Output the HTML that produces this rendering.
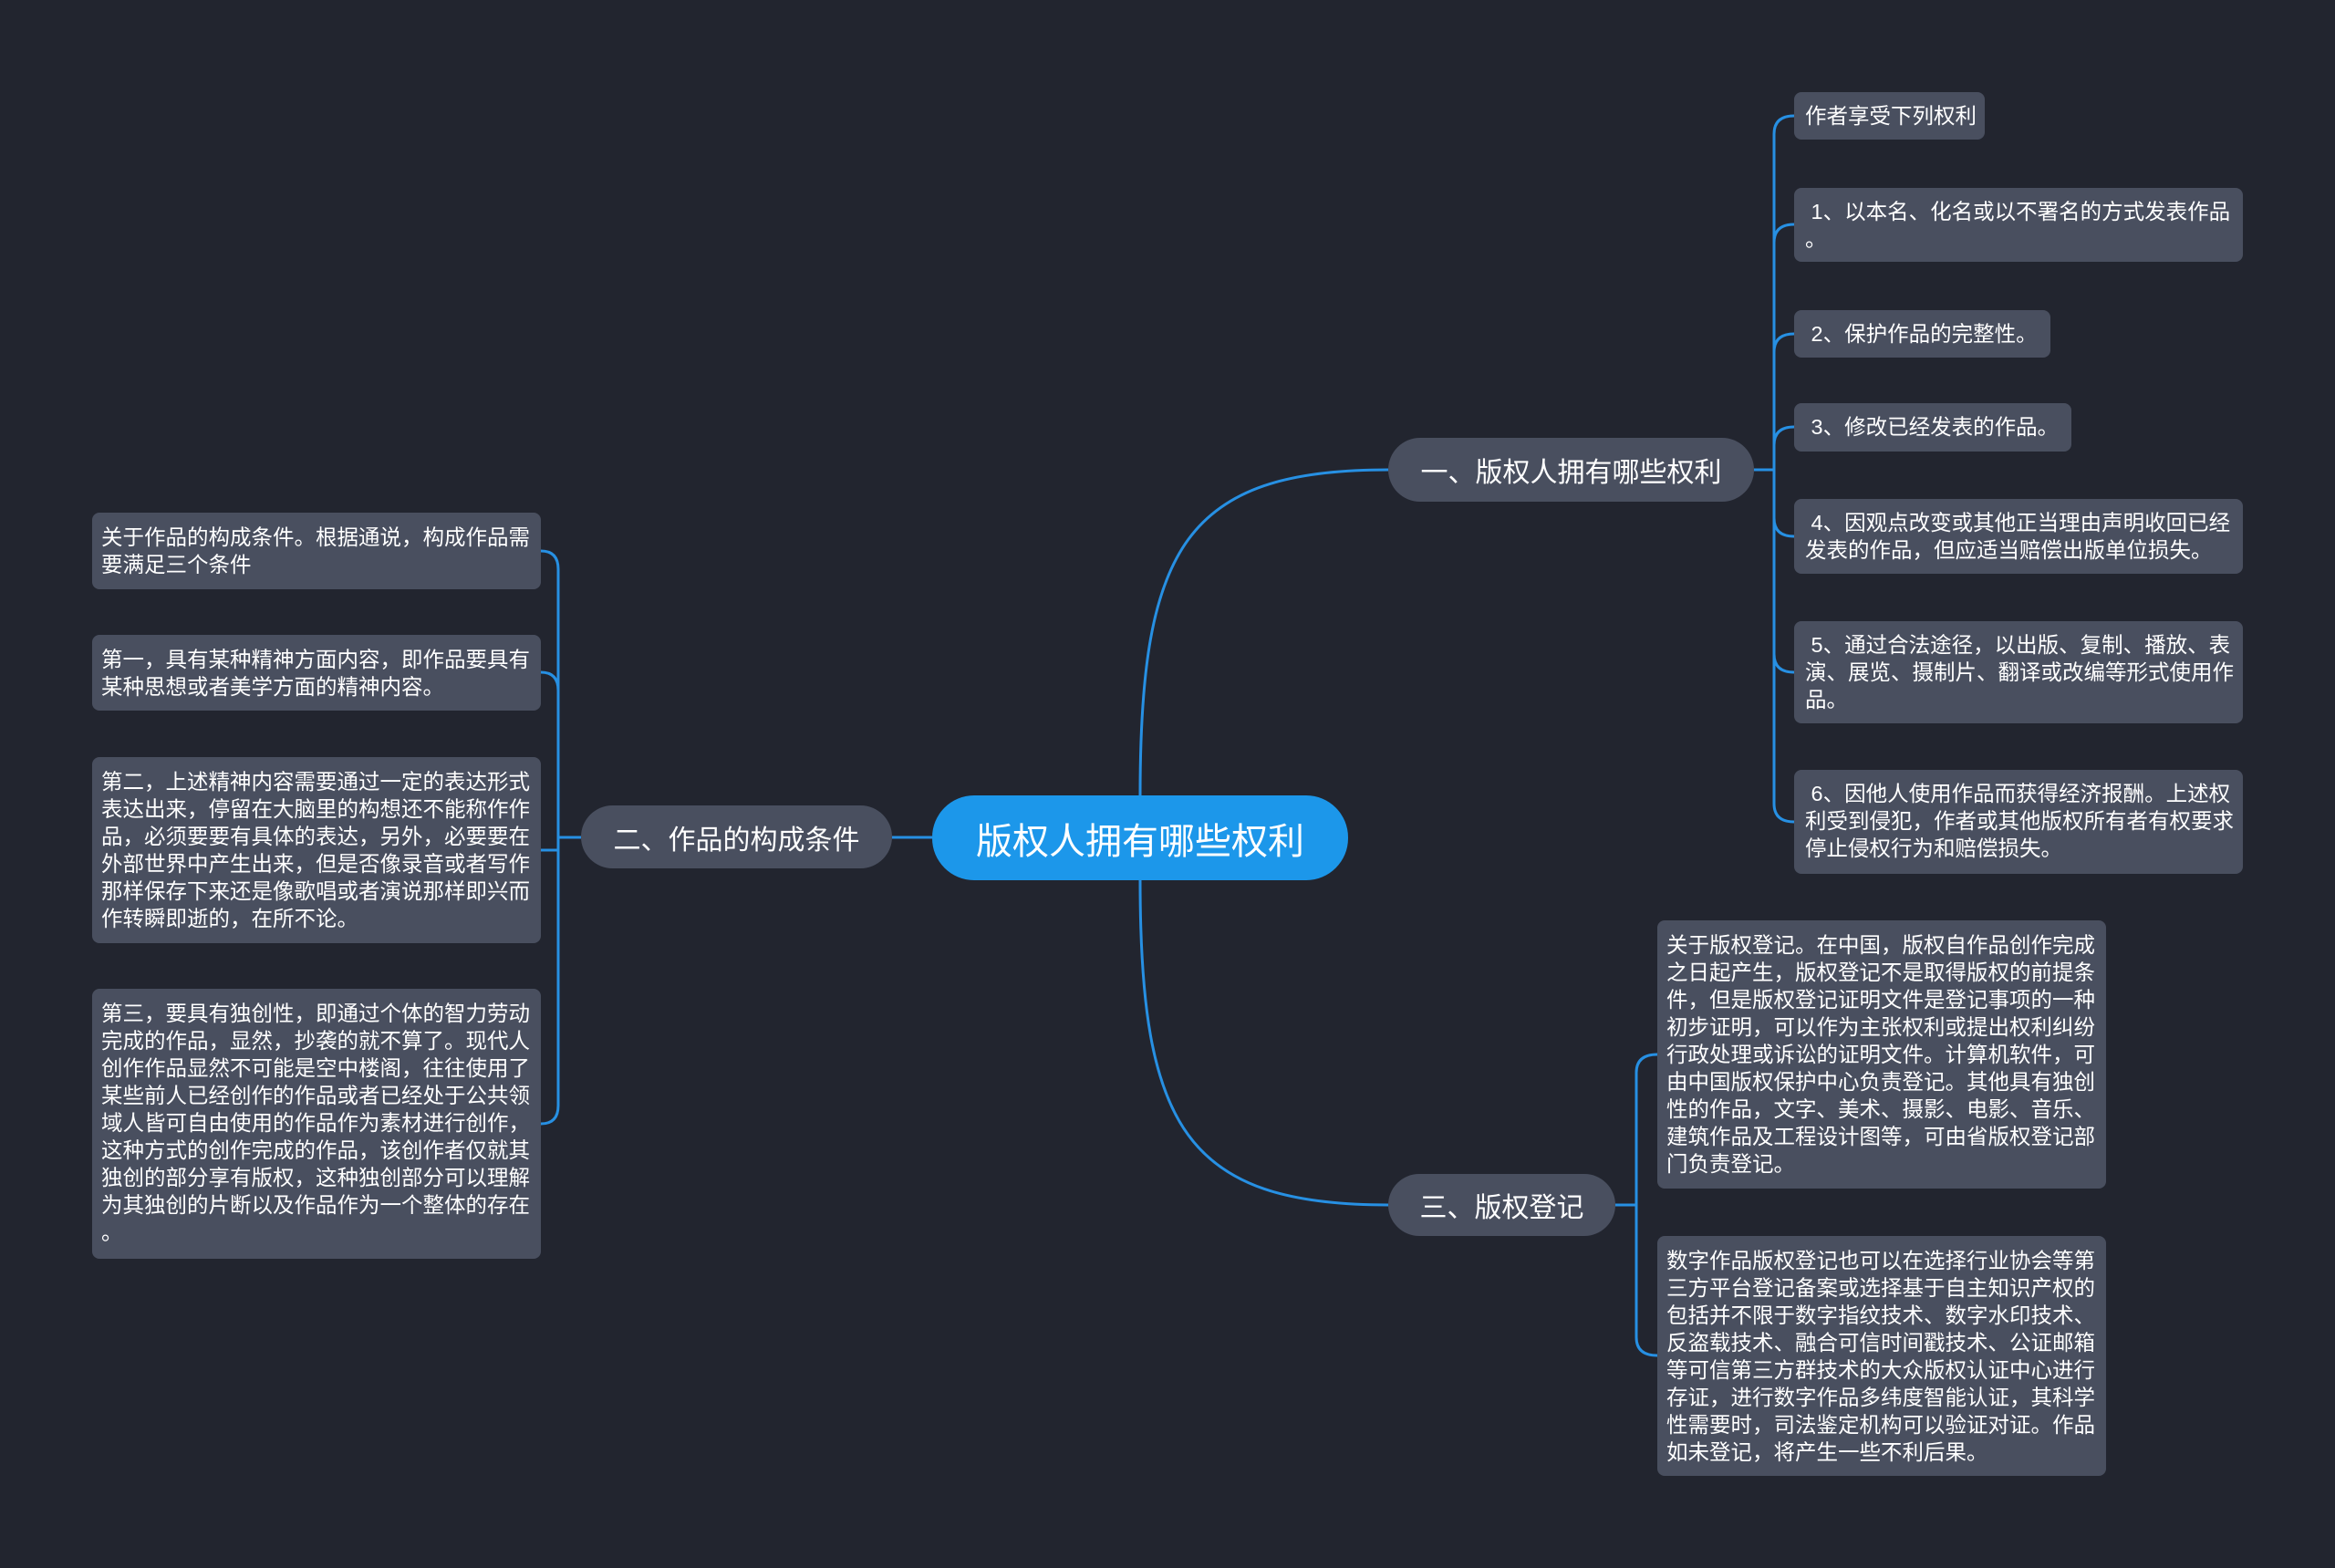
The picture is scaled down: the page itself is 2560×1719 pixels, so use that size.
<!DOCTYPE html>
<html><head><meta charset="utf-8"><style>
html,body{margin:0;padding:0;}
body{width:2560px;height:1719px;background:#22252f;position:relative;overflow:hidden;font-family:"Liberation Sans","Noto Sans CJK SC",sans-serif;color:#fff;}
.b{position:absolute;background:#494f5f;border-radius:8px;font-size:23.5px;line-height:30px;box-sizing:border-box;white-space:nowrap;}
.l{padding:12px 10px;}
.r{padding:11px 12px;}
.p{position:absolute;background:#494f5f;border-radius:36px;font-size:30px;display:flex;align-items:center;justify-content:center;white-space:nowrap;}
svg{position:absolute;left:0;top:0;}
</style></head><body>
<svg width="2560" height="1719" fill="none" stroke="#2790e3" stroke-width="3">
<path d="M1250 872 C1250 600 1300 515 1522 515"/>
<path d="M1250 965 C1250 1235 1300 1321 1522 1321"/>
<path d="M1022 918 L978 918"/>
<path d="M1923 515 L1945 515"/>
<path d="M1945 515 L1945 147 Q1945 127 1967 127"/>
<path d="M1945 515 L1945 266 Q1945 246 1967 246"/>
<path d="M1945 515 L1945 386 Q1945 366 1967 366"/>
<path d="M1945 515 L1945 488 Q1945 468 1967 468"/>
<path d="M1945 515 L1945 568 Q1945 588 1967 588"/>
<path d="M1945 515 L1945 717 Q1945 737 1967 737"/>
<path d="M1945 515 L1945 881 Q1945 901 1967 901"/>
<path d="M1771 1321 L1794 1321"/>
<path d="M1794 1321 L1794 1176 Q1794 1156 1817 1156"/>
<path d="M1794 1321 L1794 1466 Q1794 1486 1817 1486"/>
<path d="M637 918 L612 918"/>
<path d="M612 918 L612 624 Q612 604 593 604"/>
<path d="M612 918 L612 757 Q612 737 593 737"/>
<path d="M612 918 L612 932 Q612 932 593 932"/>
<path d="M612 918 L612 1212 Q612 1232 593 1232"/>
</svg>
<div class="p" style="left:1022px;top:872px;width:456px;height:93px;border-radius:46px;background:#1c97ea;font-size:40px;">版权人拥有哪些权利</div>
<div class="p" style="left:1522px;top:480px;width:401px;height:70px;">一、版权人拥有哪些权利</div>
<div class="p" style="left:637px;top:883px;width:341px;height:69px;">二、作品的构成条件</div>
<div class="p" style="left:1522px;top:1287px;width:249px;height:68px;">三、版权登记</div>

<div class="b r" style="left:1967px;top:101px;width:209px;height:52px;">作者享受下列权利</div>
<div class="b r" style="left:1967px;top:206px;width:492px;height:81px;">&nbsp;1、以本名、化名或以不署名的方式发表作品<br>。</div>
<div class="b r" style="left:1967px;top:340px;width:281px;height:52px;">&nbsp;2、保护作品的完整性。</div>
<div class="b r" style="left:1967px;top:442px;width:304px;height:53px;">&nbsp;3、修改已经发表的作品。</div>
<div class="b r" style="left:1967px;top:547px;width:492px;height:82px;">&nbsp;4、因观点改变或其他正当理由声明收回已经<br>发表的作品，但应适当赔偿出版单位损失。</div>
<div class="b r" style="left:1967px;top:681px;width:492px;height:112px;">&nbsp;5、通过合法途径，以出版、复制、播放、表<br>演、展览、摄制片、翻译或改编等形式使用作<br>品。</div>
<div class="b r" style="left:1967px;top:844px;width:492px;height:114px;">&nbsp;6、因他人使用作品而获得经济报酬。上述权<br>利受到侵犯，作者或其他版权所有者有权要求<br>停止侵权行为和赔偿损失。</div>

<div class="b l" style="left:1817px;top:1009px;width:492px;height:294px;">关于版权登记。在中国，版权自作品创作完成<br>之日起产生，版权登记不是取得版权的前提条<br>件，但是版权登记证明文件是登记事项的一种<br>初步证明，可以作为主张权利或提出权利纠纷<br>行政处理或诉讼的证明文件。计算机软件，可<br>由中国版权保护中心负责登记。其他具有独创<br>性的作品，文字、美术、摄影、电影、音乐、<br>建筑作品及工程设计图等，可由省版权登记部<br>门负责登记。</div>
<div class="b l" style="left:1817px;top:1355px;width:492px;height:263px;">数字作品版权登记也可以在选择行业协会等第<br>三方平台登记备案或选择基于自主知识产权的<br>包括并不限于数字指纹技术、数字水印技术、<br>反盗载技术、融合可信时间戳技术、公证邮箱<br>等可信第三方群技术的大众版权认证中心进行<br>存证，进行数字作品多纬度智能认证，其科学<br>性需要时，司法鉴定机构可以验证对证。作品<br>如未登记，将产生一些不利后果。</div>

<div class="b l" style="left:101px;top:562px;width:492px;height:84px;">关于作品的构成条件。根据通说，构成作品需<br>要满足三个条件</div>
<div class="b l" style="left:101px;top:696px;width:492px;height:83px;">第一，具有某种精神方面内容，即作品要具有<br>某种思想或者美学方面的精神内容。</div>
<div class="b l" style="left:101px;top:830px;width:492px;height:204px;">第二，上述精神内容需要通过一定的表达形式<br>表达出来，停留在大脑里的构想还不能称作作<br>品，必须要要有具体的表达，另外，必要要在<br>外部世界中产生出来，但是否像录音或者写作<br>那样保存下来还是像歌唱或者演说那样即兴而<br>作转瞬即逝的，在所不论。</div>
<div class="b l" style="left:101px;top:1084px;width:492px;height:296px;">第三，要具有独创性，即通过个体的智力劳动<br>完成的作品，显然，抄袭的就不算了。现代人<br>创作作品显然不可能是空中楼阁，往往使用了<br>某些前人已经创作的作品或者已经处于公共领<br>域人皆可自由使用的作品作为素材进行创作，<br>这种方式的创作完成的作品，该创作者仅就其<br>独创的部分享有版权，这种独创部分可以理解<br>为其独创的片断以及作品作为一个整体的存在<br>。</div>
</body></html>
